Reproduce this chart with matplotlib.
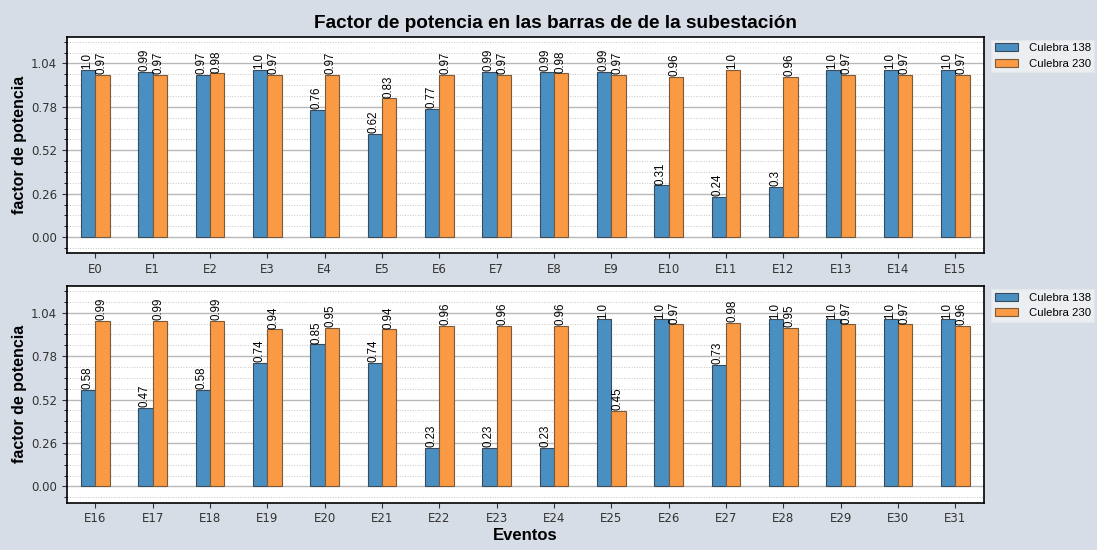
import numpy as np
import matplotlib
matplotlib.use("Agg")
import matplotlib.pyplot as plt
from matplotlib.ticker import MultipleLocator

# --- DATOS ---
eventos_1 = ["E%d" % i for i in range(16)]
eventos_2 = ["E%d" % i for i in range(16, 32)]

culebra138_1 = [1.0, 0.99, 0.97, 1.0, 0.76, 0.62, 0.77, 0.99, 0.99, 0.99, 0.31, 0.24, 0.3, 1.0, 1.0, 1.0]
culebra230_1 = [0.97, 0.97, 0.98, 0.97, 0.97, 0.83, 0.97, 0.97, 0.98, 0.97, 0.96, 1.0, 0.96, 0.97, 0.97, 0.97]
culebra138_2 = [0.58, 0.47, 0.58, 0.74, 0.85, 0.74, 0.23, 0.23, 0.23, 1.0, 1.0, 0.73, 1.0, 1.0, 1.0, 1.0]
culebra230_2 = [0.99, 0.99, 0.99, 0.94, 0.95, 0.94, 0.96, 0.96, 0.96, 0.45, 0.97, 0.98, 0.95, 0.97, 0.97, 0.96]

yticks = [0.0, 0.26, 0.52, 0.78, 1.04]

FONDO = '#d6dde6'
AZUL = '#4a8fc2'
NARANJA = '#fb9a45'
ARIAL = 'Liberation Sans'

fig = plt.figure(figsize=(10.97, 5.5), dpi=100, facecolor=FONDO)
ax1 = fig.add_axes([0.0608, 0.5394, 0.8362, 0.3939])
ax2 = fig.add_axes([0.0608, 0.0860, 0.8362, 0.3940])

w = 0.25

def dibujar(ax, etiquetas, v138, v230):
    x = np.arange(len(etiquetas))
    b1 = ax.bar(x - w / 2, v138, w, color=AZUL, edgecolor='#3a4a58', linewidth=0.8,
                label='Culebra 138', zorder=3)
    b2 = ax.bar(x + w / 2, v230, w, color=NARANJA, edgecolor='#7a5a3a', linewidth=0.8,
                label='Culebra 230', zorder=3)
    for barras, vals in ((b1, v138), (b2, v230)):
        for b, v in zip(barras, vals):
            ax.text(b.get_x() + b.get_width() / 2 - 0.02, v + 0.005, str(v), rotation=90,
                    ha='center', va='bottom', fontsize=8.3, family=ARIAL, zorder=4)
    ax.set_xticks(x)
    ax.set_xticklabels(etiquetas)
    ax.set_xlim(-0.5, len(etiquetas) - 0.5)
    ax.set_ylim(-0.097, 1.2)
    ax.set_yticks(yticks)
    ax.set_yticklabels(["%.2f" % t for t in yticks])
    ax.yaxis.set_minor_locator(MultipleLocator(0.065))
    ax.grid(True, axis='y', which='major', color='#b8b8b8', linewidth=1.0, zorder=0)
    ax.grid(True, axis='y', which='minor', color='#c4c4c4', linestyle=':', linewidth=0.7, zorder=0)
    ax.tick_params(axis='both', labelsize=8.5, colors='#333333')
    ax.tick_params(axis='y', which='minor', length=2)
    for s in ax.spines.values():
        s.set_linewidth(1.2)
    ax.set_ylabel('factor de potencia', fontsize=11.5, fontweight='bold', family=ARIAL,
                  labelpad=2.5)
    leg = ax.legend(loc='upper left', bbox_to_anchor=(1.008, 0.985),
                    prop={'family': ARIAL, 'size': 8.2}, fancybox=False,
                    handlelength=2.0, handletextpad=1.0, borderpad=0.3,
                    borderaxespad=0)
    leg.get_frame().set_edgecolor('#e4e7ea')
    leg.get_frame().set_facecolor('#f2f4f6')

dibujar(ax1, eventos_1, culebra138_1, culebra230_1)
dibujar(ax2, eventos_2, culebra138_2, culebra230_2)

fig.text(0.506, 0.958, 'Factor de potencia en las barras de de la subestación', fontsize=13.7,
         fontweight='bold', family=ARIAL, ha='center', va='center')
ax2.set_xlabel('Eventos', fontsize=12, fontweight='bold', family=ARIAL, labelpad=2)

fig.savefig('out.png', dpi=100, facecolor=FONDO)
